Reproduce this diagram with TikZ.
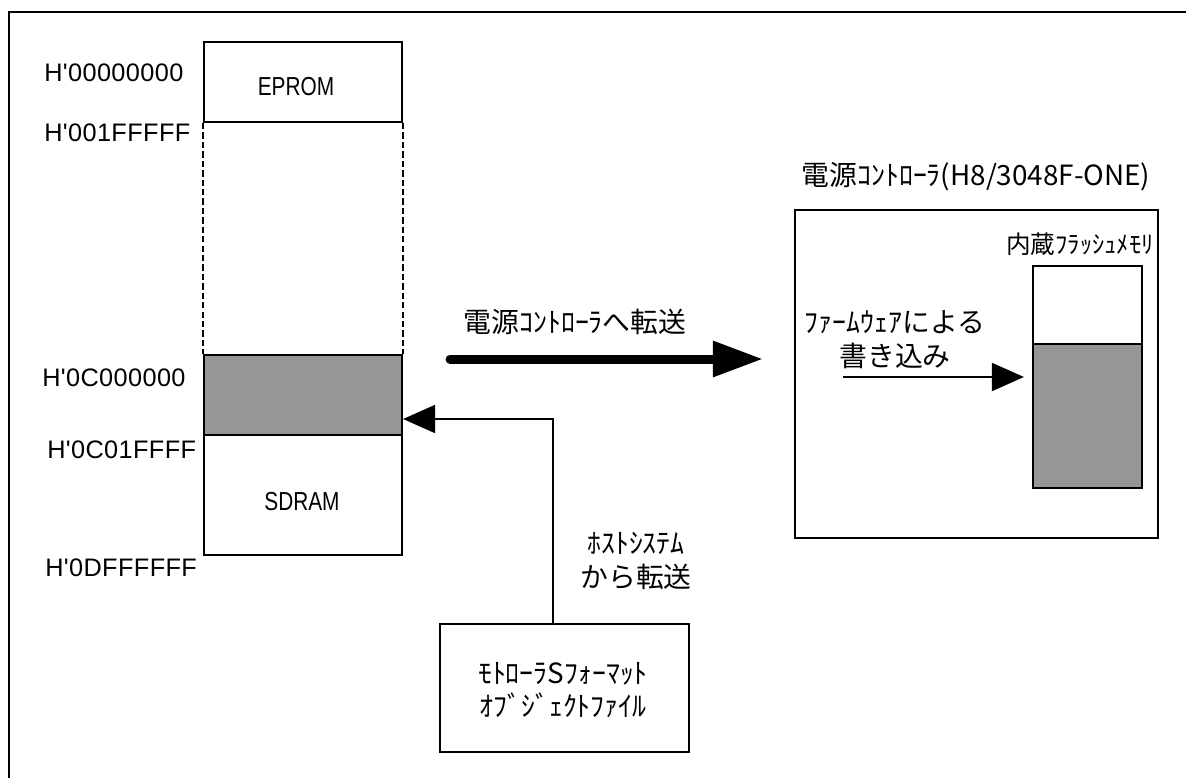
\documentclass[tikz,border=0pt]{standalone}
\usepackage{fontspec}
\usepackage{xcolor}
\newfontfamily\jpfont{Noto Sans CJK JP}
\newfontfamily\hexfont[LetterSpace=1.5]{Liberation Sans}
\newfontfamily\memfont[FakeStretch=0.8]{Liberation Sans}
\definecolor{fillgray}{RGB}{150,150,150}
\usetikzlibrary{arrows.meta}

\begin{document}
\begin{tikzpicture}[x=0.025cm, y=-0.025cm, box/.style={draw, line width=1.5pt, inner sep=0pt}, shade box/.style={box, fill=fillgray}, lbl/.style={inner sep=0pt, align=center, font=\jpfont\fontsize{19.8}{24}\selectfont}, hex/.style={inner sep=0pt, anchor=west, font=\hexfont\fontsize{18}{20}\selectfont}, memtxt/.style={inner sep=0pt, font=\memfont\fontsize{18.5}{20}\selectfont}, arr/.style={-{Triangle[length=0.8cm,width=0.7cm]}, line width=1.3pt}, bigarr/.style={-{Triangle[length=1.25cm,width=0.85cm]}, line width=6.4pt, line cap=round}, gapline/.style={line width=1.5pt, dash pattern=on 4.5pt off 2.2pt}]
\useasboundingbox (0,0) rectangle (1186,778);
\draw[line width=1.3pt] (1186,12) -- (9,12) -- (9,778);
% memory map
\node[box, minimum width=4.95cm, minimum height=2cm] (eprom) at (303,82) {};
\node[shade box, minimum width=4.95cm, minimum height=2cm] (region) at (303,395) {};
\node[box, minimum width=4.95cm, minimum height=3cm] (sdram) at (303,495) {};
\node[memtxt] (epromtxt) at (296,87) {EPROM};
\node[memtxt] (sdramtxt) at (302,502) {SDRAM};
\draw[gapline] (eprom.south west) -- (region.north west);
\draw[gapline] (eprom.south east) -- (region.north east);
\node[hex] (a0) at (44,73) {H'00000000};
\node[hex] (a1) at (44,133) {H'001FFFFF};
\node[hex] (a2) at (42,378) {H'0C000000};
\node[hex] (a3) at (47,450) {H'0C01FFFF};
\node[hex] (a4) at (45,568) {H'0DFFFFFF};
% object file
\node[box, minimum width=6.225cm, minimum height=3.2cm] (obj) at (564.5,688) {};
\node[lbl] (objtxt) at (563,690) {ﾓﾄﾛｰﾗSﾌｫｰﾏｯﾄ\\ｵﾌﾞｼﾞｪｸﾄﾌｧｲﾙ};
\node[lbl] (host) at (636,561) {ﾎｽﾄｼｽﾃﾑ\\から転送};
\draw[arr] ([xshift=-0.29cm]obj.north) |- ([yshift=-0.6cm]region.east);
% transfer to controller
\coordinate (t0) at (450,359);
\coordinate (t1) at (763,359);
\node[lbl] (ttxt) at (575,322) {電源ｺﾝﾄﾛｰﾗへ転送};
\draw[bigarr] (t0) -- (t1);
% controller
\node[box, minimum width=9.075cm, minimum height=8.2cm] (ctrl) at (976.5,374) {};
\node[lbl] (ctrltxt) at (976,177) {電源ｺﾝﾄﾛｰﾗ(H8/3048F-ONE)};
\node[box, minimum width=2.725cm, minimum height=1.95cm] (flashtop) at (1087.5,305) {};
\node[shade box, minimum width=2.725cm, minimum height=3.6cm] (flashbot) at (1087.5,416) {};
\node[lbl, font=\jpfont\fontsize{17.5}{20}\selectfont] (flashtxt) at (1080,244) {内蔵ﾌﾗｯｼｭﾒﾓﾘ};
\node[lbl] (fwtxt) at (895,340) {ﾌｧｰﾑｳｪｱによる\\書き込み};
\coordinate (w0) at (843,377);
\draw[arr] (w0) -- ([xshift=-0.2cm, yshift=0.975cm]flashbot.west);
\end{tikzpicture}
\end{document}
